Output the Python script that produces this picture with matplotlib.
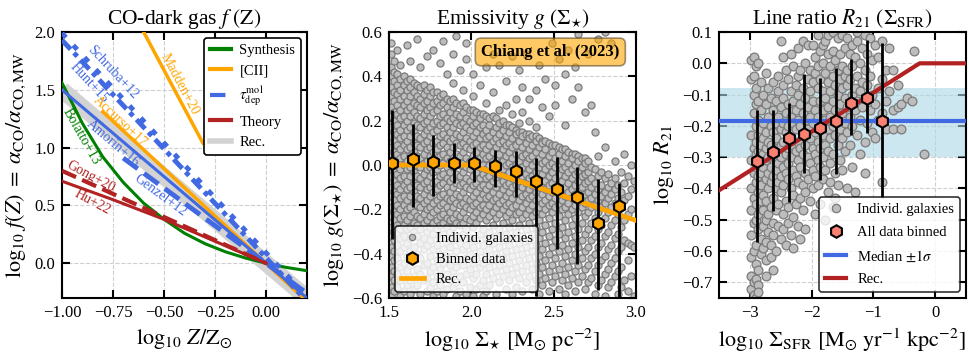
import numpy as np
import matplotlib
matplotlib.use('Agg')
import matplotlib.pyplot as plt
from matplotlib.lines import Line2D

plt.rcParams['font.family'] = 'serif'
plt.rcParams['font.serif'] = ['Liberation Serif', 'DejaVu Serif']
plt.rcParams['mathtext.fontset'] = 'stix'
plt.rcParams['axes.linewidth'] = 1.5

###### CO-dark gas f(Z) ######
rec_Z = [-1.0, 0.2]
rec_f = [1.5, -0.3]
bolatto_Z = [-1.0, -0.9, -0.8, -0.7, -0.6, -0.5, -0.4, -0.3, -0.2, -0.1, 0.0, 0.1, 0.2]
bolatto_f = [1.56, 1.21, 0.92, 0.70, 0.52, 0.38, 0.26, 0.17, 0.10, 0.045, 0.0, -0.036, -0.064]
accurso_Z = [-0.8, 0.2]
accurso_f = [1.31, -0.33]
madden_Z = [-0.6, -0.31]
madden_f = [2.0, 1.04]
schruba_Z = [-1.0, 0.2]
schruba_f = [1.99, -0.29]
hunt_Z = [-1.0, 0.2]
hunt_f = [1.93, -0.33]
amorin_Z = [-1.0, 0.2]
amorin_f = [1.5, -0.3]
genzel_Z = [-0.7, 0.2]
genzel_f = [0.91, -0.26]
gong_Z = [-1.0, 0.0]
gong_f = [0.8, 0.0]
hu_Z = [-1.0, -0.75, -0.5, -0.25, 0.0]
hu_f = [0.71, 0.55, 0.38, 0.19, 0.0]

###### emissivity g(Sigma_star) ######
star_cols = [1.51, 1.53, 1.55, 1.57, 1.59, 1.61, 1.63, 1.65, 1.67, 1.69,
             1.71, 1.73, 1.75, 1.77, 1.79, 1.81, 1.83, 1.85, 1.87, 1.89,
             1.91, 1.93, 1.95, 1.97, 1.99, 2.01, 2.03, 2.05, 2.07, 2.09,
             2.11, 2.13, 2.15, 2.17, 2.19, 2.21, 2.23, 2.25, 2.27, 2.29,
             2.31, 2.33, 2.35, 2.37, 2.39, 2.41, 2.43, 2.45, 2.47, 2.49,
             2.51, 2.53, 2.55, 2.57, 2.59, 2.61, 2.63, 2.65, 2.67, 2.69,
             2.71, 2.73, 2.75, 2.77, 2.79, 2.81, 2.83, 2.85, 2.87, 2.89,
             2.91, 2.93, 2.95, 2.97, 2.99]
star_gal = [
    [0.55, 0.50, 0.44, 0.40, 0.35, 0.31, 0.26, 0.22, 0.17, 0.13, 0.08, 0.04, -0.01, -0.05, -0.10, -0.14, -0.19, -0.23, -0.28, -0.32, -0.37, -0.41, -0.46, -0.50, -0.55, -0.59],
    [0.47, 0.42, 0.38, 0.33, 0.29, 0.24, 0.20, 0.15, 0.11, 0.06, 0.02, -0.03, -0.07, -0.12, -0.16, -0.21, -0.25, -0.30, -0.34, -0.39, -0.43, -0.48, -0.52, -0.57],
    [0.52, 0.41, 0.36, 0.32, 0.27, 0.23, 0.18, 0.14, 0.09, 0.05, 0.00, -0.04, -0.09, -0.13, -0.18, -0.22, -0.27, -0.31, -0.36, -0.42, -0.49, -0.55],
    [0.45, 0.39, 0.34, 0.30, 0.25, 0.21, 0.16, 0.12, 0.07, 0.03, -0.02, -0.06, -0.11, -0.15, -0.20, -0.24, -0.29, -0.33, -0.39, -0.46, -0.52, -0.59],
    [0.40, 0.36, 0.31, 0.27, 0.22, 0.18, 0.13, 0.09, 0.04, 0.00, -0.05, -0.09, -0.14, -0.18, -0.23, -0.27, -0.32, -0.37, -0.44, -0.50, -0.57],
    [0.54, 0.38, 0.34, 0.29, 0.25, 0.20, 0.16, 0.11, 0.07, 0.02, -0.02, -0.07, -0.11, -0.16, -0.20, -0.25, -0.29, -0.35, -0.41, -0.48, -0.54],
    [0.47, 0.39, 0.35, 0.31, 0.26, 0.22, 0.17, 0.13, 0.08, 0.04, -0.01, -0.05, -0.10, -0.14, -0.19, -0.23, -0.28, -0.33, -0.39, -0.45, -0.52, -0.58],
    [0.37, 0.33, 0.28, 0.24, 0.19, 0.15, 0.10, 0.06, 0.01, -0.03, -0.08, -0.12, -0.17, -0.21, -0.26, -0.30, -0.37, -0.43, -0.50, -0.56],
    [0.57, 0.36, 0.31, 0.27, 0.22, 0.18, 0.13, 0.09, 0.04, 0.00, -0.05, -0.09, -0.14, -0.18, -0.23, -0.27, -0.32, -0.40, -0.47, -0.54],
    [0.44, 0.35, 0.30, 0.26, 0.21, 0.17, 0.12, 0.08, 0.03, -0.01, -0.06, -0.10, -0.15, -0.19, -0.24, -0.29, -0.35, -0.42, -0.49, -0.58],
    [0.36, 0.32, 0.28, 0.23, 0.19, 0.14, 0.10, 0.05, 0.01, -0.04, -0.08, -0.13, -0.17, -0.22, -0.26, -0.33, -0.38, -0.45, -0.52],
    [0.49, 0.34, 0.29, 0.25, 0.20, 0.16, 0.11, 0.07, 0.02, -0.02, -0.07, -0.11, -0.16, -0.20, -0.25, -0.30, -0.36, -0.44, -0.51, -0.57],
    [0.35, 0.31, 0.26, 0.22, 0.17, 0.13, 0.08, 0.04, -0.01, -0.05, -0.10, -0.14, -0.19, -0.23, -0.28, -0.34, -0.41, -0.48, -0.55],
    [0.52, 0.33, 0.28, 0.24, 0.19, 0.15, 0.10, 0.06, 0.01, -0.03, -0.08, -0.12, -0.17, -0.21, -0.26, -0.31, -0.38, -0.46, -0.53, -0.59],
    [0.33, 0.29, 0.25, 0.20, 0.16, 0.11, 0.07, 0.02, -0.02, -0.07, -0.11, -0.16, -0.20, -0.25, -0.29, -0.36, -0.43, -0.50, -0.57],
    [0.46, 0.31, 0.27, 0.22, 0.18, 0.13, 0.09, 0.04, 0.00, -0.05, -0.09, -0.14, -0.18, -0.23, -0.27, -0.33, -0.40, -0.47, -0.54],
    [0.56, 0.32, 0.28, 0.23, 0.19, 0.14, 0.10, 0.05, 0.01, -0.04, -0.08, -0.13, -0.17, -0.22, -0.26, -0.31, -0.38, -0.44, -0.51, -0.58],
    [0.41, 0.30, 0.26, 0.21, 0.17, 0.12, 0.08, 0.03, -0.01, -0.06, -0.10, -0.15, -0.19, -0.24, -0.28, -0.35, -0.42, -0.49, -0.56],
    [0.29, 0.24, 0.20, 0.15, 0.11, 0.06, 0.02, -0.03, -0.07, -0.12, -0.16, -0.21, -0.25, -0.30, -0.37, -0.45, -0.52],
    [0.50, 0.37, 0.30, 0.26, 0.21, 0.17, 0.12, 0.08, 0.03, -0.01, -0.06, -0.10, -0.15, -0.19, -0.24, -0.28, -0.34, -0.41, -0.48, -0.55],
    [0.58, 0.28, 0.23, 0.19, 0.14, 0.10, 0.05, 0.01, -0.04, -0.08, -0.13, -0.17, -0.22, -0.26, -0.32, -0.39, -0.46, -0.53, -0.59],
    [0.43, 0.27, 0.22, 0.18, 0.13, 0.09, 0.04, 0.00, -0.05, -0.09, -0.14, -0.18, -0.23, -0.27, -0.35, -0.43, -0.50, -0.57],
    [0.34, 0.28, 0.24, 0.19, 0.15, 0.10, 0.06, 0.01, -0.03, -0.08, -0.12, -0.17, -0.21, -0.26, -0.31, -0.38, -0.45, -0.53],
    [0.55, 0.48, 0.26, 0.21, 0.17, 0.12, 0.08, 0.03, -0.01, -0.06, -0.10, -0.15, -0.19, -0.24, -0.29, -0.36, -0.42, -0.49, -0.58],
    [0.25, 0.20, 0.16, 0.11, 0.07, 0.02, -0.02, -0.07, -0.11, -0.16, -0.20, -0.25, -0.33, -0.40, -0.47, -0.55],
    [0.41, 0.31, 0.25, 0.22, 0.18, 0.13, 0.09, 0.04, 0.00, -0.05, -0.09, -0.14, -0.18, -0.23, -0.28, -0.37, -0.44, -0.51, -0.59],
    [0.24, 0.19, 0.15, 0.10, 0.06, 0.01, -0.03, -0.08, -0.12, -0.17, -0.21, -0.26, -0.34, -0.42, -0.49, -0.56],
    [0.36, 0.23, 0.21, 0.17, 0.12, 0.08, 0.03, -0.01, -0.06, -0.10, -0.15, -0.19, -0.24, -0.31, -0.39, -0.46, -0.54],
    [0.23, 0.18, 0.14, 0.09, 0.05, 0.00, -0.04, -0.09, -0.13, -0.18, -0.22, -0.29, -0.36, -0.44, -0.52, -0.59],
    [0.44, 0.28, 0.22, 0.16, 0.12, 0.07, 0.03, -0.02, -0.06, -0.11, -0.15, -0.20, -0.25, -0.33, -0.41, -0.49, -0.57],
    [0.21, 0.18, 0.13, 0.09, 0.04, 0.00, -0.05, -0.09, -0.14, -0.18, -0.23, -0.30, -0.38, -0.46, -0.54],
    [0.50, 0.33, 0.22, 0.15, 0.11, 0.06, 0.02, -0.03, -0.07, -0.12, -0.16, -0.21, -0.27, -0.35, -0.43, -0.51],
    [0.21, 0.17, 0.12, 0.08, 0.03, -0.01, -0.06, -0.10, -0.15, -0.19, -0.24, -0.32, -0.40, -0.48, -0.58],
    [0.45, 0.25, 0.19, 0.14, 0.10, 0.05, 0.01, -0.04, -0.08, -0.13, -0.17, -0.22, -0.29, -0.37, -0.45, -0.53],
    [0.20, 0.16, 0.11, 0.07, 0.02, -0.02, -0.07, -0.11, -0.16, -0.20, -0.26, -0.34, -0.42, -0.50],
    [0.38, 0.27, 0.18, 0.13, 0.09, 0.04, 0.00, -0.05, -0.09, -0.14, -0.18, -0.23, -0.31, -0.39, -0.47, -0.56],
    [0.18, 0.15, 0.10, 0.06, 0.01, -0.03, -0.08, -0.12, -0.17, -0.21, -0.28, -0.36, -0.44, -0.52],
    [0.49, 0.23, 0.17, 0.12, 0.08, 0.03, -0.01, -0.06, -0.10, -0.15, -0.19, -0.25, -0.33, -0.41, -0.49, -0.58],
    [0.30, 0.16, 0.14, 0.09, 0.05, 0.00, -0.04, -0.09, -0.13, -0.18, -0.22, -0.30, -0.38, -0.46, -0.55],
    [0.43, 0.19, 0.15, 0.11, 0.06, 0.02, -0.03, -0.07, -0.12, -0.16, -0.21, -0.27, -0.35, -0.43, -0.51],
    [0.35, 0.24, 0.15, 0.13, 0.08, 0.04, -0.01, -0.05, -0.10, -0.14, -0.19, -0.24, -0.32, -0.40, -0.48, -0.57],
    [0.50, 0.14, 0.10, 0.05, 0.01, -0.04, -0.08, -0.13, -0.17, -0.22, -0.29, -0.37, -0.45, -0.53],
    [0.30, 0.20, 0.14, 0.12, 0.07, 0.03, -0.02, -0.06, -0.11, -0.15, -0.20, -0.26, -0.34, -0.42, -0.50],
    [0.13, 0.09, 0.04, 0.00, -0.05, -0.09, -0.14, -0.18, -0.23, -0.31, -0.39, -0.47, -0.56],
    [0.34, 0.17, 0.13, 0.11, 0.06, 0.02, -0.03, -0.07, -0.12, -0.16, -0.21, -0.28, -0.36, -0.44, -0.52],
    [0.45, 0.12, 0.08, 0.03, -0.01, -0.06, -0.10, -0.15, -0.19, -0.25, -0.33, -0.41, -0.49, -0.58],
    [0.26, 0.11, 0.10, 0.05, 0.01, -0.04, -0.08, -0.13, -0.17, -0.22, -0.30, -0.38, -0.46, -0.54],
    [0.39, 0.11, 0.07, 0.02, -0.02, -0.07, -0.11, -0.16, -0.20, -0.27, -0.35, -0.43, -0.51],
    [0.22, 0.10, 0.04, 0.00, -0.05, -0.09, -0.14, -0.18, -0.24, -0.32, -0.40, -0.48, -0.57],
    [0.55, 0.09, 0.06, 0.01, -0.03, -0.08, -0.12, -0.17, -0.21, -0.29, -0.37, -0.45, -0.53],
    [0.36, 0.27, 0.09, 0.03, -0.01, -0.06, -0.10, -0.15, -0.19, -0.26, -0.34, -0.42, -0.50],
    [0.48, 0.08, 0.05, 0.00, -0.04, -0.09, -0.13, -0.18, -0.23, -0.31, -0.39, -0.47, -0.56],
    [0.07, 0.02, -0.02, -0.07, -0.11, -0.16, -0.20, -0.28, -0.36, -0.44, -0.52],
    [0.41, 0.18, 0.07, 0.04, -0.01, -0.05, -0.10, -0.14, -0.19, -0.25, -0.33, -0.41, -0.49, -0.58],
    [0.52, 0.06, 0.01, -0.03, -0.08, -0.12, -0.17, -0.22, -0.30, -0.38, -0.46, -0.54],
    [0.30, 0.05, 0.03, -0.02, -0.06, -0.11, -0.15, -0.20, -0.27, -0.35, -0.43, -0.51],
    [0.44, 0.05, 0.00, -0.04, -0.09, -0.13, -0.18, -0.24, -0.32, -0.40, -0.48, -0.57],
    [0.59, 0.35, 0.04, 0.02, -0.03, -0.07, -0.12, -0.16, -0.21, -0.29, -0.37, -0.45, -0.53],
    [0.03, -0.01, -0.05, -0.10, -0.14, -0.19, -0.26, -0.34, -0.42, -0.50],
    [0.24, 0.03, 0.01, -0.04, -0.08, -0.13, -0.17, -0.23, -0.31, -0.39, -0.47, -0.56],
    [0.50, 0.02, -0.03, -0.07, -0.12, -0.16, -0.21, -0.29, -0.37, -0.45, -0.53],
    [0.27, -0.01, -0.06, -0.10, -0.15, -0.19, -0.26, -0.34, -0.42, -0.51],
    [0.15, -0.02, -0.08, -0.13, -0.18, -0.24, -0.32, -0.40, -0.48, -0.58],
    [0.57, 0.04, -0.05, -0.11, -0.16, -0.21, -0.29, -0.37, -0.45, -0.54],
    [-0.03, -0.09, -0.14, -0.19, -0.27, -0.35, -0.43, -0.52],
    [0.60, 0.08, -0.06, -0.12, -0.17, -0.24, -0.32, -0.41, -0.49, -0.59],
    [-0.04, -0.10, -0.15, -0.21, -0.30, -0.38, -0.47, -0.55],
    [0.55, -0.08, -0.13, -0.19, -0.27, -0.36, -0.44, -0.53],
    [0.02, -0.06, -0.11, -0.17, -0.25, -0.33, -0.42, -0.50],
    [-0.09, -0.15, -0.22, -0.31, -0.39, -0.48, -0.58],
    [-0.03, -0.12, -0.19, -0.28, -0.37, -0.46, -0.55],
    [0.05, -0.08, -0.16, -0.25, -0.34, -0.52],
    [-0.05, -0.14, -0.22, -0.35, -0.43, -0.57],
    [0.00, -0.11, -0.20, -0.36, -0.50],
    [-0.07, -0.37, -0.59],
]
star_bin_x = [1.52, 1.644, 1.769, 1.893, 2.018, 2.144, 2.271, 2.395, 2.518, 2.644, 2.771, 2.897]
star_bin_y = [0.008, 0.026, 0.015, 0.008, 0.008, -0.003, -0.026, -0.072, -0.106, -0.146, -0.261, -0.184]
star_bin_hi = [0.249, 0.185, 0.136, 0.101, 0.083, 0.068, 0.065, 0.030, 0.038, -0.008, -0.063, -0.083]
star_bin_lo = [-0.332, -0.190, -0.140, -0.080, -0.075, -0.098, -0.143, -0.590, -0.377, -0.445, -0.565, -0.640]
star_rec_x = [1.5, 2.0, 3.0]
star_rec_y = [0.0, 0.0, -0.25]

###### line ratio R21(Sigma_SFR) ######
sfr_cols = [-2.98, -2.94, -2.90, -2.86, -2.82, -2.78, -2.74, -2.70, -2.66, -2.62,
            -2.58, -2.54, -2.50, -2.46, -2.42, -2.38, -2.34, -2.30, -2.26, -2.22,
            -2.18, -2.14, -2.10, -2.06, -2.02, -1.98, -1.94, -1.90, -1.86, -1.82,
            -1.78, -1.74, -1.70, -1.66, -1.62, -1.58, -1.54, -1.50, -1.46, -1.42,
            -1.38, -1.34, -1.30, -1.26, -1.22, -1.18, -1.14, -1.10, -1.06, -1.02,
            -0.98, -0.92, -0.86, -0.80, -0.74, -0.68, -0.60, -0.55, -0.45, -0.37,
            -0.34, -0.18]
sfr_gal = [
    [0.01, -0.05, -0.23, -0.31, -0.40, -0.47, -0.55, -0.62, -0.68, -0.72],
    [0.02, -0.04, -0.10, -0.16, -0.27, -0.35, -0.43, -0.51, -0.60, -0.70, -0.74],
    [-0.01, -0.08, -0.13, -0.20, -0.25, -0.29, -0.33, -0.38, -0.45, -0.50, -0.58, -0.64, -0.69, -0.75],
    [0.00, -0.12, -0.18, -0.23, -0.28, -0.36, -0.41, -0.48, -0.53, -0.66, -0.71, -0.73],
    [-0.06, -0.15, -0.21, -0.26, -0.31, -0.35, -0.39, -0.44, -0.56, -0.61],
    [-0.10, -0.19, -0.24, -0.29, -0.33, -0.42, -0.47, -0.52, -0.59],
    [-0.03, -0.13, -0.22, -0.27, -0.31, -0.37, -0.44, -0.50, -0.57, -0.63, -0.68],
    [-0.08, -0.17, -0.25, -0.30, -0.35, -0.40, -0.48, -0.54],
    [-0.11, -0.20, -0.26, -0.33, -0.38, -0.46, -0.58, -0.62],
    [-0.06, -0.15, -0.22, -0.28, -0.36, -0.43, -0.51, -0.55, -0.66],
    [-0.12, -0.19, -0.24, -0.31, -0.34, -0.40, -0.47, -0.60],
    [-0.04, -0.09, -0.17, -0.27, -0.32, -0.38, -0.45, -0.52],
    [0.07, -0.14, -0.21, -0.26, -0.30, -0.36, -0.41, -0.56],
    [0.02, -0.07, -0.11, -0.19, -0.25, -0.33, -0.39, -0.48, -0.53],
    [-0.02, -0.16, -0.22, -0.29, -0.35, -0.44, -0.58],
    [-0.05, -0.13, -0.20, -0.27, -0.32, -0.37, -0.46, -0.51],
    [0.03, -0.09, -0.17, -0.24, -0.30, -0.40, -0.55],
    [-0.01, -0.12, -0.19, -0.26, -0.34, -0.42, -0.49, -0.59],
    [-0.07, -0.15, -0.21, -0.28, -0.36, -0.45],
    [0.05, -0.04, -0.10, -0.18, -0.25, -0.31, -0.38, -0.52],
    [-0.02, -0.13, -0.20, -0.27, -0.33, -0.43, -0.56],
    [0.07, -0.08, -0.16, -0.23, -0.29, -0.39, -0.47],
    [0.00, -0.11, -0.18, -0.26, -0.35, -0.41, -0.53],
    [0.06, -0.05, -0.14, -0.21, -0.30, -0.37],
    [-0.02, -0.09, -0.17, -0.24, -0.32, -0.44],
    [0.06, -0.06, -0.12, -0.19, -0.27, -0.34, -0.40],
    [0.02, -0.03, -0.15, -0.22, -0.29, -0.36, -0.48],
    [0.09, -0.01, -0.08, -0.17, -0.25, -0.31, -0.39],
    [0.04, -0.05, -0.12, -0.20, -0.27, -0.33, -0.45],
    [0.06, 0.00, -0.09, -0.15, -0.23, -0.30, -0.37],
    [0.07, -0.03, -0.11, -0.18, -0.26, -0.34, -0.50],
    [0.09, 0.03, -0.06, -0.14, -0.21, -0.28, -0.41],
    [-0.01, -0.09, -0.17, -0.24, -0.32, -0.38],
    [0.10, 0.04, -0.04, -0.12, -0.20, -0.29, -0.46],
    [0.01, -0.07, -0.15, -0.23, -0.35, -0.43],
    [0.08, -0.02, -0.10, -0.18, -0.26, -0.39],
    [0.03, -0.05, -0.13, -0.21, -0.31],
    [0.09, -0.01, -0.08, -0.16, -0.24, -0.34],
    [0.05, -0.04, -0.11, -0.19, -0.28],
    [0.08, -0.02, -0.07, -0.14, -0.22, -0.40],
    [0.03, -0.05, -0.17, -0.26],
    [0.06, -0.01, -0.10, -0.20, -0.33],
    [0.02, -0.08, -0.15, -0.41],
    [0.10, 0.07, -0.04, -0.12, -0.23],
    [0.00, -0.09, -0.18, -0.29],
    [0.05, -0.06, -0.14],
    [0.09, -0.02, -0.11, -0.25, -0.35],
    [0.03, -0.07, -0.19],
    [0.08, -0.04, -0.15],
    [0.01, -0.10, -0.22],
    [0.06, -0.13, -0.24],
    [0.02, -0.08, -0.18],
    [0.07, -0.05, -0.16, -0.38],
    [-0.02, -0.12, -0.21],
    [0.05, -0.09],
    [-0.02, -0.15, -0.21],
    [-0.07, -0.14],
    [-0.13, -0.21],
    [-0.11],
    [-0.12],
    [0.04],
    [-0.29],
]
sfr_bin_x = [-2.88, -2.62, -2.36, -2.12, -1.87, -1.60, -1.36, -1.10, -0.86]
sfr_bin_y = [-0.313, -0.283, -0.240, -0.227, -0.208, -0.183, -0.126, -0.112, -0.183]
sfr_bin_hi = [-0.149, -0.149, -0.128, -0.034, -0.048, -0.016, 0.013, 0.075, 0.065]
sfr_bin_lo = [-0.572, -0.472, -0.443, -0.350, -0.374, -0.355, -0.230, -0.222, -0.430]
sfr_rec_x = [-3.5, -0.25, 0.5]
sfr_rec_y = [-0.406, 0.0, 0.0]
r21_median = -0.185
r21_lo, r21_hi = -0.300, -0.078

gal_face = '#bdbdbd'
gal_edge = '#7a7a7a'
LBL = 16
TTL = 15.5


def style_axes(ax):
    ax.tick_params(which='major', direction='in', top=True, right=True,
                   length=6, width=1.5, labelsize=12, pad=5)
    ax.grid(True, ls='--', color='#cfcfcf', lw=0.8)
    ax.set_axisbelow(True)


fig = plt.figure(figsize=(9.7, 3.53), dpi=100)

### panel 1: f(Z) ###
ax1 = fig.add_axes([0.0639, 0.1558, 0.2526, 0.7535])
style_axes(ax1)
ax1.plot(rec_Z, rec_f, color='lightgray', lw=12, solid_capstyle='butt', zorder=1)
ax1.plot(bolatto_Z, bolatto_f, color='green', lw=2.2, zorder=3)
ax1.plot(accurso_Z, accurso_f, color='orange', lw=2.5, zorder=3)
ax1.plot(madden_Z, madden_f, color='orange', lw=2.5, zorder=3)
ax1.plot(schruba_Z, schruba_f, color='royalblue', lw=3.5, dashes=(1.2, 2.2), zorder=3)
ax1.plot(hunt_Z, hunt_f, color='royalblue', lw=3.5, dashes=(2.6, 1.0, 1.0, 1.0), zorder=3)
ax1.plot(amorin_Z, amorin_f, color='royalblue', lw=2.2, zorder=3)
ax1.plot(genzel_Z, genzel_f, color='royalblue', lw=3.5, ls='--', zorder=3)
ax1.plot(gong_Z, gong_f, color='firebrick', lw=3, ls='--', zorder=3)
ax1.plot(hu_Z, hu_f, color='firebrick', lw=2.2, zorder=3)

labs = [('Schruba+12', -0.754, 1.655, -1.9, 'royalblue'),
        ('Hunt+15', -0.866, 1.559, -1.9, 'royalblue'),
        ('Madden+20', -0.425, 1.55, -3.3, 'orange'),
        ('Accurso+17', -0.713, 1.223, -1.64, 'orange'),
        ('Amorin+16', -0.749, 1.035, -1.5, 'royalblue'),
        ('Bolatto+13', -0.904, 1.098, -3.1, 'green'),
        ('Gong+20', -0.859, 0.745, -0.95, 'firebrick'),
        ('Hu+22', -0.851, 0.527, -0.95, 'firebrick'),
        ('Genzel+12', -0.519, 0.585, -1.3, 'royalblue')]
for txt, lx, ly, slope, col in labs:
    ax1.text(lx, ly, txt, color=col, fontsize=10, ha='center', va='center',
             rotation=np.degrees(np.arctan(slope)), rotation_mode='anchor',
             transform_rotates_text=True, zorder=5)

ax1.set_xlim(-1.0, 0.2)
ax1.set_ylim(-0.3, 2.0)
ax1.set_xticks([-1.0, -0.75, -0.5, -0.25, 0.0])
ax1.set_yticks([0.0, 0.5, 1.0, 1.5, 2.0])
ax1.set_xlabel(r'$\log_{10}\,Z/{\rm Z}_{\odot}$', fontsize=LBL)
ax1.set_ylabel(r'$\log_{10}\,f(Z)\;=\;\alpha_{\rm CO}/\alpha_{\rm CO,MW}$', fontsize=LBL)
ax1.set_title(r'CO-dark gas $f\ ({\rm Z})$', fontsize=TTL)
h1 = [Line2D([], [], color='green', lw=3),
      Line2D([], [], color='orange', lw=3),
      Line2D([], [], color='royalblue', lw=3, ls='--'),
      Line2D([], [], color='firebrick', lw=3),
      Line2D([], [], color='lightgray', lw=4)]
leg = ax1.legend(h1, ['Synthesis', '[CII]', r'$\tau^{\rm mol}_{\rm dep}$', 'Theory', 'Rec.'],
                 loc='upper right', fontsize=10.5, framealpha=1, edgecolor='k',
                 handlelength=1.4, handletextpad=0.6, borderaxespad=0.4, labelspacing=0.5)
leg.get_frame().set_linewidth(1.2)
leg.set_zorder(7)

### panel 2: g(Sigma_star) ###
ax2 = fig.add_axes([0.401, 0.1558, 0.2546, 0.7535])
style_axes(ax2)
gx = [c for c, ys in zip(star_cols, star_gal) for _ in ys]
gy = [y for ys in star_gal for y in ys]
ax2.scatter(gx, gy, s=26, c=gal_face, edgecolors=gal_edge, linewidths=0.9, zorder=2)
ax2.plot(star_rec_x, star_rec_y, color='orange', lw=3.4, zorder=3)
ax2.errorbar(star_bin_x, star_bin_y,
             yerr=[np.array(star_bin_y) - np.array(star_bin_lo), np.array(star_bin_hi) - np.array(star_bin_y)],
             fmt='h', color='k', mfc='orange', mec='k', ms=9, mew=1.5, elinewidth=2, capsize=0, zorder=4)
ax2.text(2.48, 0.51, 'Chiang et al. (2023)', fontsize=12, fontweight='bold', ha='center', va='center',
         bbox=dict(boxstyle='round,pad=0.35', facecolor='orange', alpha=0.6, edgecolor='#5a4a2a', lw=1.2),
         zorder=6)
ax2.set_xlim(1.5, 3.0)
ax2.set_ylim(-0.6, 0.6)
ax2.set_xticks([1.5, 2.0, 2.5, 3.0])
ax2.set_yticks([-0.6, -0.4, -0.2, 0.0, 0.2, 0.4, 0.6])
ax2.set_xlabel(r'$\log_{10}\,\Sigma_{\star}\ [{\rm M_{\odot}\ pc^{-2}}]$', fontsize=LBL)
ax2.set_ylabel(r'$\log_{10}\,g(\Sigma_{\star})\;=\;\alpha_{\rm CO}/\alpha_{\rm CO,MW}$', fontsize=LBL)
ax2.set_title(r'Emissivity $g\ (\Sigma_{\star})$', fontsize=TTL)
h2 = [Line2D([], [], ls='', marker='o', ms=4.5, mfc=gal_face, mec=gal_edge, mew=0.9),
      Line2D([], [], ls='', marker='h', ms=9, mfc='orange', mec='k', mew=1.5),
      Line2D([], [], color='orange', lw=3.4)]
leg = ax2.legend(h2, ['Individ. galaxies', 'Binned data', 'Rec.'], loc='lower left',
                 fontsize=10.5, framealpha=0.8, edgecolor='k', borderaxespad=0.4, handlelength=1.6)
leg.get_frame().set_linewidth(1.2)
leg.set_zorder(7)

### panel 3: R21(Sigma_SFR) ###
ax3 = fig.add_axes([0.7412, 0.1558, 0.2546, 0.7535])
style_axes(ax3)
ax3.axhspan(r21_lo, r21_hi, color='lightblue', alpha=0.6, lw=0, zorder=1)
rx = [c for c, ys in zip(sfr_cols, sfr_gal) for _ in ys]
ry = [y for ys in sfr_gal for y in ys]
ax3.scatter(rx, ry, s=40, c=gal_face, edgecolors=gal_edge, linewidths=0.9, zorder=2)
ax3.axhline(r21_median, color='royalblue', lw=3, zorder=3)
ax3.plot(sfr_rec_x, sfr_rec_y, color='firebrick', lw=3, zorder=3)
ax3.errorbar(sfr_bin_x, sfr_bin_y,
             yerr=[np.array(sfr_bin_y) - np.array(sfr_bin_lo), np.array(sfr_bin_hi) - np.array(sfr_bin_y)],
             fmt='h', color='k', mfc='salmon', mec='k', ms=9, mew=1.5, elinewidth=2, capsize=0, zorder=4)
ax3.set_xlim(-3.5, 0.5)
ax3.set_ylim(-0.75, 0.1)
ax3.set_xticks([-3, -2, -1, 0])
ax3.set_yticks([-0.7, -0.6, -0.5, -0.4, -0.3, -0.2, -0.1, 0.0, 0.1])
ax3.set_xlabel(r'$\log_{10}\,\Sigma_{\rm SFR}\ [{\rm M_{\odot}\ yr^{-1}\ kpc^{-2}}]$', fontsize=LBL)
ax3.set_ylabel(r'$\log_{10}\,R_{21}$', fontsize=LBL)
ax3.set_title(r'Line ratio $R_{21}\ (\Sigma_{\rm SFR})$', fontsize=TTL)
h3 = [Line2D([], [], ls='', marker='o', ms=6, mfc=gal_face, mec=gal_edge, mew=0.9),
      Line2D([], [], ls='', marker='h', ms=9, mfc='salmon', mec='k', mew=1.5),
      Line2D([], [], color='royalblue', lw=3),
      Line2D([], [], color='firebrick', lw=3)]
leg = ax3.legend(h3, ['Individ. galaxies', 'All data binned', r'Median $\pm 1\sigma$', 'Rec.'],
                 loc='lower right', fontsize=10.5, framealpha=0.8, edgecolor='k',
                 borderaxespad=0.4, handlelength=1.4, labelspacing=0.65)
leg.get_frame().set_linewidth(1.2)
leg.set_zorder(7)

fig.savefig('out.png', dpi=100)
